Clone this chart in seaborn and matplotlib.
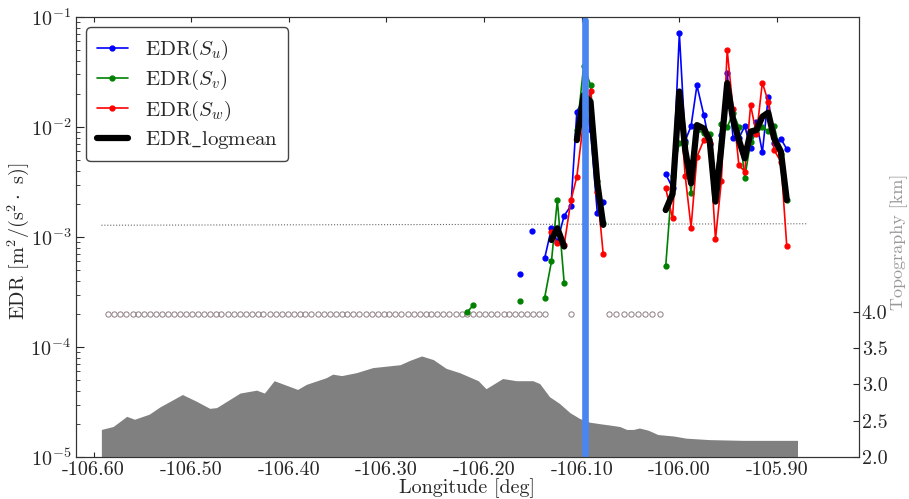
import numpy as np
import matplotlib
matplotlib.use('Agg')
import matplotlib.pyplot as plt
import seaborn as sns
from matplotlib.ticker import FormatStrFormatter, LogLocator, FixedLocator

nan = np.nan

# EDR along the track (two clusters, NaN breaks the lines)
edr_lon = [-106.217, -106.211, -106.205, -106.163, -106.157, -106.151, -106.144, -106.138,
           -106.131, -106.125, -106.118, -106.111, -106.105, -106.098, -106.091, -106.084, -106.078,
           -106.050,
           -106.014, -106.007, -106.000, -105.994, -105.988, -105.982, -105.975, -105.969, -105.963,
           -105.957, -105.951, -105.945, -105.939, -105.933, -105.927, -105.921, -105.915, -105.909,
           -105.903, -105.896, -105.890]
edr_su = [nan, nan, nan, 4.6e-4, nan, 1.14e-3, nan, 6.4e-4,
          1.2e-3, 9.1e-4, 1.56e-3, 1.93e-3, 1.38e-2, 1.8e-2, 9.3e-3, 1.64e-3, 2.1e-3,
          nan,
          3.74e-3, 2.8e-3, 7.1e-2, 7.5e-3, 1.02e-2, 2.39e-2, 1.29e-2, 7.0e-3, 3.3e-3,
          8.5e-3, 3.1e-2, 8.0e-3, 7.9e-3, 1.02e-2, 6.4e-3, 1.12e-2, 5.9e-3, 1.86e-2,
          7.1e-3, 7.8e-3, 6.3e-3]
edr_sv = [2.1e-4, 2.4e-4, nan, 2.64e-4, nan, nan, nan, 2.8e-4,
          6.0e-4, 2.17e-3, 3.85e-4, nan, 9.3e-3, 3.59e-2, 2.41e-2, 3.2e-3, 1.35e-3,
          nan,
          5.4e-4, 3.59e-3, 7.2e-3, 7.2e-3, 2.53e-3, 9.4e-3, 8.8e-3, 8.7e-3, 2.9e-3,
          1.06e-2, 9.9e-3, 1.35e-2, 1.0e-2, 3.46e-3, 7.36e-3, 8.8e-3, 9.9e-3, 9.27e-3,
          1.03e-2, 5.65e-3, 2.17e-3]
edr_sw = [nan, nan, nan, nan, nan, nan, nan, nan,
          1.12e-3, 8.75e-4, 8.46e-4, 2.17e-3, 3.53e-3, 1.17e-2, 2.14e-2, 2.58e-3, 7.0e-4,
          nan,
          2.77e-3, 1.48e-3, 1.8e-2, 3.59e-3, 1.22e-3, 5.37e-3, 7.6e-3, 7.1e-3, 9.5e-4,
          3.23e-3, 5.0e-2, 1.45e-2, 4.49e-3, 3.93e-3, 1.58e-2, 8.57e-3, 2.53e-2, 1.7e-2,
          6.18e-3, 4.84e-3, 8.28e-4]
edr_logmean = [nan, nan, nan, nan, nan, nan, nan, nan,
               9.4e-4, 1.2e-3, 8.2e-4, nan, 7.6e-3, 1.95e-2, 1.7e-2, 3.08e-3, 1.29e-3,
               nan,
               1.76e-3, 2.46e-3, 2.1e-2, 6.18e-3, 3.08e-3, 1.04e-2, 9.7e-3, 7.6e-3, 2.1e-3,
               6.6e-3, 2.5e-2, 1.16e-2, 7.6e-3, 5.19e-3, 9.08e-3, 9.4e-3, 1.24e-2, 1.35e-2,
               7.9e-3, 5.97e-3, 2.17e-3]

# samples without a logmean value (drawn as open circles)
missing_lon = [-106.585, -106.579, -106.573, -106.567, -106.560, -106.554, -106.548, -106.542,
               -106.536, -106.530, -106.524, -106.518, -106.511, -106.505, -106.499, -106.493,
               -106.487, -106.481, -106.475, -106.469, -106.462, -106.456, -106.450, -106.444,
               -106.438, -106.432, -106.426, -106.419, -106.413, -106.407, -106.401, -106.395,
               -106.389, -106.383, -106.377, -106.370, -106.364, -106.358, -106.352, -106.346,
               -106.340, -106.334, -106.328, -106.321, -106.315, -106.309, -106.303, -106.297,
               -106.291, -106.285, -106.278, -106.272, -106.266, -106.260, -106.254, -106.248,
               -106.242, -106.236, -106.229, -106.223, -106.217, -106.211, -106.205, -106.199,
               -106.193, -106.187, -106.180, -106.174, -106.168, -106.162, -106.156, -106.150,
               -106.144, -106.138,
               -106.111,
               -106.072, -106.065, -106.057, -106.050, -106.042, -106.035, -106.028, -106.020]
missing_level = 2e-4

# noise level (dotted)
noise_lon = [-106.592, -105.870]
noise_edr = [1.28e-3, 1.32e-3]

# topography under the track
topo_lon = [-106.592, -106.580, -106.566, -106.558, -106.543, -106.532, -106.509, -106.495,
            -106.481, -106.474, -106.450, -106.433, -106.425, -106.415, -106.391, -106.382,
            -106.362, -106.355, -106.346, -106.331, -106.314, -106.286, -106.276, -106.264,
            -106.252, -106.239, -106.225, -106.206, -106.198, -106.181, -106.167, -106.150,
            -106.143, -106.133, -106.123, -106.112, -106.102, -106.092, -106.082, -106.071,
            -106.061, -106.054, -106.047, -106.041, -106.032, -106.022, -106.006, -105.993,
            -105.969, -105.935, -105.904, -105.879]
topo_km = [2.38, 2.42, 2.56, 2.52, 2.59, 2.69, 2.86, 2.77,
           2.67, 2.68, 2.88, 2.92, 2.88, 3.05, 2.93, 3.00,
           3.09, 3.14, 3.12, 3.16, 3.23, 3.27, 3.33, 3.39,
           3.34, 3.22, 3.16, 3.05, 2.94, 3.08, 3.05, 3.05,
           3.01, 2.83, 2.74, 2.61, 2.53, 2.48, 2.46, 2.44,
           2.42, 2.38, 2.38, 2.40, 2.37, 2.31, 2.29, 2.26,
           2.24, 2.23, 2.23, 2.23]

marker_lon = -106.097
xticks = [-106.60, -106.50, -106.40, -106.30, -106.20, -106.10, -106.00, -105.90]
topo_ticks = [2.0, 2.5, 3.0, 3.5, 4.0]

sns.set_style('ticks')
plt.rcParams['font.family'] = ['cmr10', 'DejaVu Serif']
plt.rcParams['mathtext.fontset'] = 'cm'
plt.rcParams['axes.unicode_minus'] = False
plt.rcParams['axes.formatter.use_mathtext'] = True

fs = 14.5
fig, ax = plt.subplots(figsize=(9.09, 4.99), dpi=100)
fig.subplots_adjust(left=0.0836, right=0.945, bottom=0.084, top=0.966)
ax2 = ax.twinx()

# topography + vertical marker on the twin axis
ax2.fill_between(topo_lon, 0, topo_km, color='#808080', lw=0)
ax2.axvline(marker_lon, ymin=0.008, ymax=0.993, color='#4a86f0', lw=4.8)
ax2.set_ylim(2.0, 8.05)
ax2.yaxis.set_major_locator(FixedLocator(topo_ticks))
ax2.yaxis.set_major_formatter(FormatStrFormatter('%.1f'))
ax2.set_ylabel('Topography [km]', color='#999999', fontsize=13)
ax2.yaxis.set_label_coords(1.0396, 0.49)
ax2.tick_params(axis='y', direction='in', labelsize=fs, length=4, pad=2)

sns.lineplot(x=noise_lon, y=noise_edr, ax=ax, color='#666666', linestyle=':', lw=0.8)
ax.plot(missing_lon, [missing_level] * len(missing_lon), 'o', ms=3.8, mfc='none',
        mec='#8c7c7e', mew=0.7, ls='none')
l1, = ax.plot(edr_lon, edr_su, '.-', color='b', lw=1.2, ms=7, label=r'EDR($S_u$)')
l2, = ax.plot(edr_lon, edr_sv, '.-', color='g', lw=1.2, ms=7, label=r'EDR($S_v$)')
l3, = ax.plot(edr_lon, edr_sw, '.-', color='r', lw=1.2, ms=7, label=r'EDR($S_w$)')
l4, = ax.plot(edr_lon, edr_logmean, '-', color='k', lw=4.5, label=r'EDR$\_$logmean')

ax.set_yscale('log')
ax.set_ylim(1e-5, 1e-1)
ax.set_xlim(-106.618, -105.816)
ax.set_xticks(xticks)
ax.xaxis.set_major_formatter(FormatStrFormatter('%.2f'))
ax.yaxis.set_major_locator(LogLocator(base=10, numticks=10))
ax.tick_params(axis='both', which='both', direction='in', top=True, labelsize=fs)
ax.tick_params(axis='x', pad=3)
ax.tick_params(axis='y', which='major', length=6)
ax.tick_params(axis='y', which='minor', length=3)
ax.set_xlabel('Longitude [deg]', fontsize=fs)
ax.xaxis.set_label_coords(0.5, -0.048)
ax.set_ylabel(r'EDR [m$^2$/(s$^2\cdot$ s)]', fontsize=fs)
ax.yaxis.set_label_coords(-0.058, 0.49)

leg = ax.legend(handles=[l1, l2, l3, l4], loc='upper left', fontsize=15,
                handlelength=1.5, labelspacing=0.3, borderpad=0.5,
                fancybox=True, framealpha=1, edgecolor='#444444')

for a in (ax, ax2):
    for s in a.spines.values():
        s.set_linewidth(0.8)
        s.set_color('#333333')

plt.savefig('out.png', dpi=100)
